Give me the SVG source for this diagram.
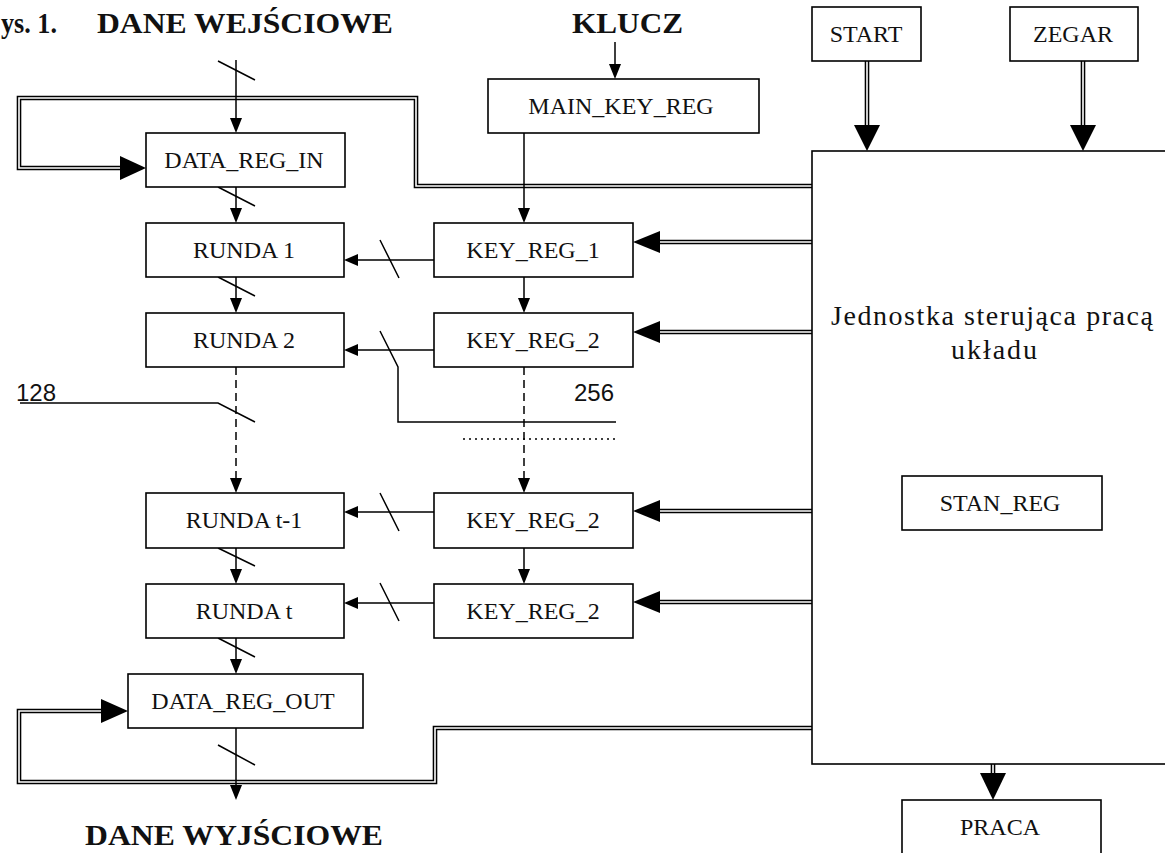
<svg xmlns="http://www.w3.org/2000/svg" width="1165" height="853" viewBox="0 0 1165 853">
<style>
.box{fill:#fff;stroke:#000;stroke-width:1.6}
.lbl{font-family:"Liberation Serif",serif;font-size:24px;fill:#111;text-anchor:middle}
.big{font-size:28px}
.ttl{font-family:"Liberation Serif",serif;font-size:30px;font-weight:bold;fill:#111}
.num{font-family:"Liberation Sans",sans-serif;font-size:24px;fill:#111}
.ln{fill:none;stroke:#000;stroke-width:1.5}
.dash{fill:none;stroke:#000;stroke-width:1.5;stroke-dasharray:8 5}
.dot{fill:none;stroke:#000;stroke-width:1.3;stroke-dasharray:2 4}
.dblo{fill:none;stroke:#000;stroke-width:4.6;stroke-linejoin:miter}
.dbli{fill:none;stroke:#fff;stroke-width:1.6;stroke-linejoin:miter}
.ah{fill:#000;stroke:none}
</style>
<rect width="1165" height="853" fill="#fff"/>

<g id="titles">
<text class="ttl" x="1" y="33" textLength="56" lengthAdjust="spacingAndGlyphs">ys. 1.</text>
<text class="ttl" x="97" y="33" textLength="296" lengthAdjust="spacingAndGlyphs">DANE WEJŚCIOWE</text>
<text class="ttl" x="572" y="33" textLength="111" lengthAdjust="spacingAndGlyphs">KLUCZ</text>
<text class="ttl" x="85" y="845" textLength="298" lengthAdjust="spacingAndGlyphs">DANE WYJŚCIOWE</text>
<text class="num" x="16" y="401">128</text>
<text class="num" x="574" y="401">256</text>
</g>

<g id="connectors">
<path class="dblo" d="M867 61V127M1083 61V127M812 242H659M812 332H659M812 511H659M812 602H659M812 186H416V98H19V168H121M812 728H435V782H19V711H102M993 764V775"/>
<path class="dbli" d="M867 61V127M1083 61V127M812 242H659M812 332H659M812 511H659M812 602H659M812 186H416V98H19V168H121M812 728H435V782H19V711H102M993 764V775"/>
<polygon class="ah" points="867,151 854,125 880,125"/>
<polygon class="ah" points="1083,151 1070,125 1096,125"/>
<polygon class="ah" points="633,242 660,231 660,253"/>
<polygon class="ah" points="633,332 660,321 660,343"/>
<polygon class="ah" points="633,511 660,500 660,522"/>
<polygon class="ah" points="633,602 660,591 660,613"/>
<polygon class="ah" points="146,168 120,156 120,180"/>
<polygon class="ah" points="128,711 101,699 101,723"/>
<polygon class="ah" points="993,800 980,773 1006,773"/>
<path class="ln" d="M236 60V120M236 187V210M236 277V300M236 548V571M236 638V661M236 728V787M615 42V66M524 133V210M524 277V300M524 548V571M434 260H357M434 350H357M434 512H357M434 603H357"/>
<path class="dash" d="M236 367V480M524 367V480"/>
<path class="ln" d="M20 403H218L255 422M380 331L398 367V422H616"/>
<path class="dot" d="M463 439H617"/>
<path class="ln" d="M218 61L255 80M218 187L255 206M218 277L255 296M218 548L255 566M218 638L255 657M218 745L255 765M380 240L399 278M380 493L399 531M380 583L399 621"/>
<polygon class="ah" points="236,133 230,118 242,118"/>
<polygon class="ah" points="236,223 230,208 242,208"/>
<polygon class="ah" points="236,313 230,298 242,298"/>
<polygon class="ah" points="236,493 230,478 242,478"/>
<polygon class="ah" points="236,584 230,569 242,569"/>
<polygon class="ah" points="236,674 230,659 242,659"/>
<polygon class="ah" points="236,800 230,785 242,785"/>
<polygon class="ah" points="615,79 609,64 621,64"/>
<polygon class="ah" points="524,223 518,208 530,208"/>
<polygon class="ah" points="524,313 518,298 530,298"/>
<polygon class="ah" points="524,493 518,478 530,478"/>
<polygon class="ah" points="524,584 518,569 530,569"/>
<polygon class="ah" points="344,260 358,254 358,266"/>
<polygon class="ah" points="344,350 358,344 358,356"/>
<polygon class="ah" points="344,512 358,506 358,518"/>
<polygon class="ah" points="344,603 358,597 358,609"/>
</g>

<g id="control-unit">
<rect class="box" x="812" y="151" width="400" height="613"/>
<text class="lbl big" x="992" y="325" textLength="322" lengthAdjust="spacing">Jednostka sterująca pracą</text>
<text class="lbl big" x="994" y="359" textLength="86" lengthAdjust="spacing">układu</text>
</g>
<g id="start"><rect class="box" x="812" y="7" width="109" height="54"/><text class="lbl" x="866" y="42">START</text></g>
<g id="zegar"><rect class="box" x="1010" y="7" width="128" height="54"/><text class="lbl" x="1073" y="42">ZEGAR</text></g>
<g id="stan-reg"><rect class="box" x="902" y="476" width="200" height="54"/><text class="lbl" x="1000" y="511">STAN_REG</text></g>
<g id="praca"><rect class="box" x="902" y="800" width="199" height="70"/><text class="lbl" x="1000" y="835">PRACA</text></g>
<g id="main-key-reg"><rect class="box" x="488" y="79" width="271" height="54"/><text class="lbl" x="621" y="114">MAIN_KEY_REG</text></g>
<g id="data-reg-in"><rect class="box" x="146" y="133" width="199" height="54"/><text class="lbl" x="244" y="168">DATA_REG_IN</text></g>
<g id="runda-1"><rect class="box" x="146" y="223" width="198" height="54"/><text class="lbl" x="244" y="258">RUNDA 1</text></g>
<g id="runda-2"><rect class="box" x="146" y="313" width="198" height="54"/><text class="lbl" x="244" y="348">RUNDA 2</text></g>
<g id="runda-t-1"><rect class="box" x="146" y="493" width="198" height="55"/><text class="lbl" x="244" y="528">RUNDA t-1</text></g>
<g id="runda-t"><rect class="box" x="146" y="584" width="198" height="54"/><text class="lbl" x="244" y="619">RUNDA t</text></g>
<g id="data-reg-out"><rect class="box" x="128" y="674" width="235" height="54"/><text class="lbl" x="243" y="709">DATA_REG_OUT</text></g>
<g id="key-reg-1"><rect class="box" x="434" y="223" width="199" height="54"/><text class="lbl" x="533" y="258">KEY_REG_1</text></g>
<g id="key-reg-2a"><rect class="box" x="434" y="313" width="199" height="54"/><text class="lbl" x="533" y="348">KEY_REG_2</text></g>
<g id="key-reg-2b"><rect class="box" x="434" y="493" width="199" height="55"/><text class="lbl" x="533" y="528">KEY_REG_2</text></g>
<g id="key-reg-2c"><rect class="box" x="434" y="584" width="199" height="54"/><text class="lbl" x="533" y="619">KEY_REG_2</text></g>
</svg>
